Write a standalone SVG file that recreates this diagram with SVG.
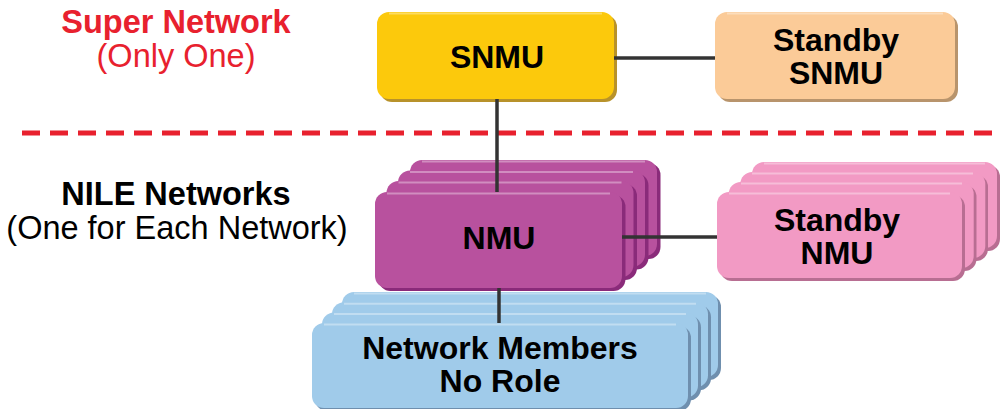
<svg xmlns="http://www.w3.org/2000/svg" width="1001" height="409" viewBox="0 0 1001 409">
<defs>
<style>
.lbl{font-family:"Liberation Sans",Arial,sans-serif;font-weight:bold;font-size:32px;fill:#000;text-anchor:middle}
.side{font-family:"Liberation Sans",Arial,sans-serif;font-size:32.5px;text-anchor:middle}
.b{font-weight:bold}
.red{fill:#e8212e}
.conn{stroke:#333;stroke-width:3.5;fill:none}
.hl{fill:none;stroke:#fff;stroke-opacity:0.35;stroke-width:2}
</style>
</defs>
<rect width="1001" height="409" fill="#fff"/>

<text class="side b red" x="176" y="33">Super Network</text>
<text class="side red" x="176" y="67">(Only One)</text>
<text class="side b" x="176" y="205" fill="#000">NILE Networks</text>
<text class="side" x="177" y="239" fill="#000">(One for Each Network)</text>

<line x1="22" y1="133" x2="1001" y2="133" stroke="#e8212e" stroke-width="5" stroke-dasharray="18 10"/>

<g id="snmu">
<rect x="380" y="15" width="237" height="87" rx="12" fill="#b8922a"/>
<rect x="377" y="12" width="237" height="87" rx="12" fill="#fcc90c"/>
<path class="hl" d="M389 13.5 H602"/>
<text class="lbl" x="497" y="68">SNMU</text>
</g>

<g id="standby-snmu">
<rect x="718" y="15" width="240" height="87" rx="12" fill="#b8946c"/>
<rect x="715" y="12" width="240" height="87" rx="12" fill="#fbcb98"/>
<path class="hl" d="M727 13.5 H943"/>
<text class="lbl" x="836" y="51">Standby</text>
<text class="lbl" x="836" y="84">SNMU</text>
</g>

<g id="nmu">
<g fill="#b8519e">
<rect x="413.5" y="163" width="247" height="96" rx="12" fill="#8a2b7a"/>
<rect x="410" y="160" width="247" height="96" rx="12"/>
<path class="hl" d="M422 161.5 H645"/>
<rect x="401.5" y="173.5" width="247" height="96" rx="12" fill="#8a2b7a"/>
<rect x="398" y="170.5" width="247" height="96" rx="12"/>
<path class="hl" d="M410 172 H633"/>
<rect x="390" y="184" width="247" height="96" rx="12" fill="#8a2b7a"/>
<rect x="386.5" y="181" width="247" height="96" rx="12"/>
<path class="hl" d="M398.5 182.5 H621.5"/>
<rect x="378.5" y="195" width="247" height="96" rx="12" fill="#8a2b7a"/>
<rect x="375" y="192" width="247" height="96" rx="12"/>
<path class="hl" d="M387 193.5 H610"/>
</g>
<text class="lbl" x="499" y="249">NMU</text>
</g>

<g id="standby-nmu">
<g fill="#f29ac4">
<rect x="755" y="165" width="245" height="86" rx="12" fill="#b86e92"/>
<rect x="752" y="162" width="245" height="86" rx="12"/>
<path class="hl" d="M764 163.5 H985"/>
<rect x="743" y="175" width="245" height="86" rx="12" fill="#b86e92"/>
<rect x="740.3" y="172" width="245" height="86" rx="12"/>
<path class="hl" d="M752 173.5 H973"/>
<rect x="731.5" y="185" width="245" height="86" rx="12" fill="#b86e92"/>
<rect x="728.7" y="182" width="245" height="86" rx="12"/>
<path class="hl" d="M741 183.5 H962"/>
<rect x="720" y="195" width="245" height="86" rx="12" fill="#b86e92"/>
<rect x="717" y="192" width="245" height="86" rx="12"/>
<path class="hl" d="M729 193.5 H950"/>
</g>
<text class="lbl" x="837" y="231">Standby</text>
<text class="lbl" x="837" y="264">NMU</text>
</g>

<g id="network-members">
<g fill="#a0cbea">
<rect x="345" y="295" width="376" height="85" rx="12" fill="#6f8fae"/>
<rect x="342" y="292" width="376" height="85" rx="12"/>
<path class="hl" d="M354 293.5 H706"/>
<rect x="335" y="305.3" width="376" height="85" rx="12" fill="#6f8fae"/>
<rect x="332" y="302.3" width="376" height="85" rx="12"/>
<path class="hl" d="M344 303.8 H696"/>
<rect x="325" y="315.6" width="376" height="85" rx="12" fill="#6f8fae"/>
<rect x="322" y="312.6" width="376" height="85" rx="12"/>
<path class="hl" d="M334 314 H686"/>
<rect x="315" y="326" width="376" height="85" rx="12" fill="#6f8fae"/>
<rect x="312" y="323" width="376" height="85" rx="12"/>
<path class="hl" d="M324 324.5 H676"/>
</g>
<text class="lbl" x="500" y="359">Network Members</text>
<text class="lbl" x="500" y="392">No Role</text>
</g>

<g id="connectors">
<line class="conn" x1="614" y1="58" x2="715" y2="58"/>
<line class="conn" x1="497" y1="99" x2="497" y2="192"/>
<line class="conn" x1="622" y1="237" x2="717" y2="237"/>
<line class="conn" x1="499" y1="288" x2="499" y2="323"/>
</g>
</svg>
